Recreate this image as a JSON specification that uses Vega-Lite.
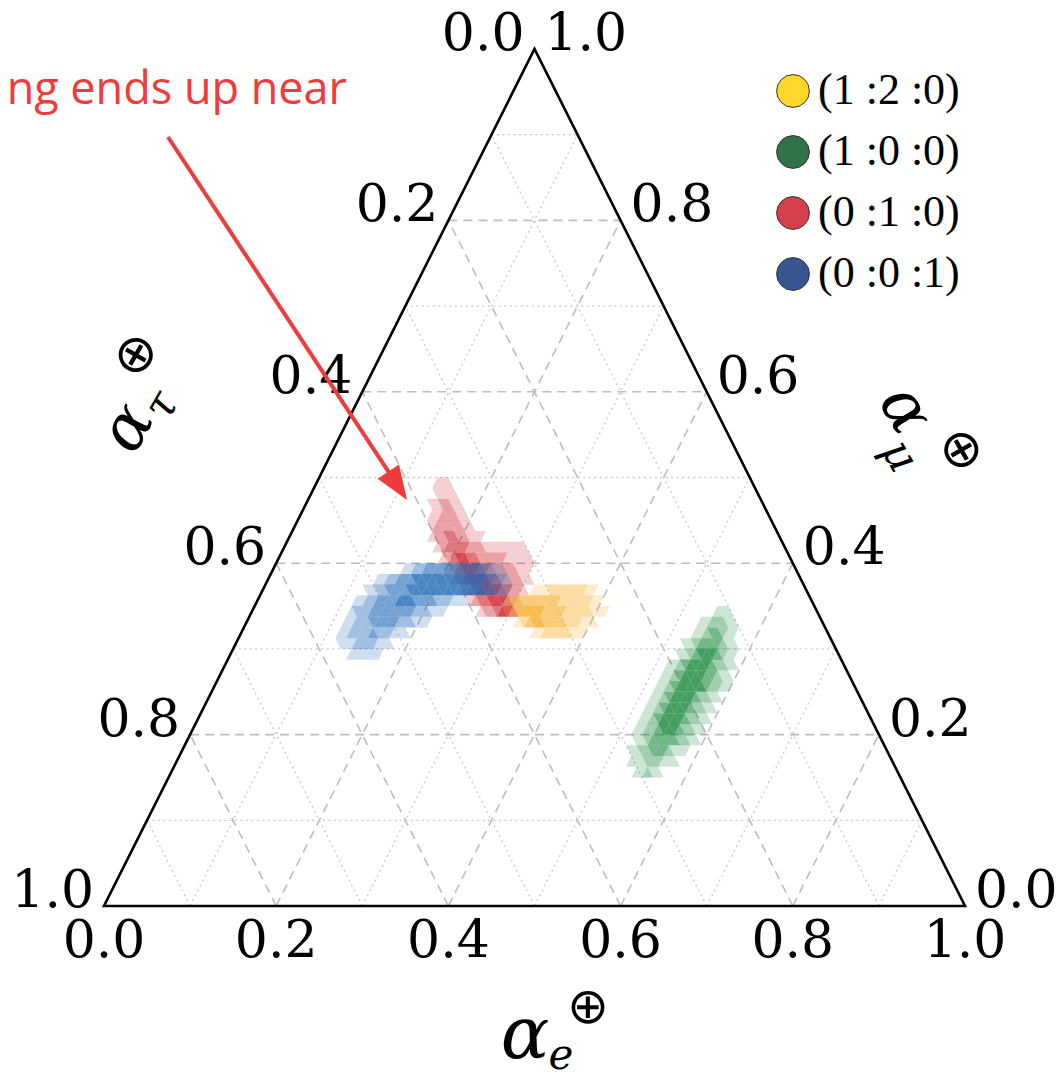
{
"$schema":"https://vega.github.io/schema/vega-lite/v6.json",
"width":861,"height":857,"autosize":"none",
"padding":{"left":104,"top":49,"right":95,"bottom":174},
"background":"white",
"config":{"view":{"stroke":null}},
"resolve":{"scale":{"x":"independent","y":"independent","color":"independent"}},
"layer":[
{"data":{"values":[{"x":0.1,"y":0.2,"x2":0.9,"y2":0.2},{"x":0.2,"y":0.4,"x2":0.8,"y2":0.4},{"x":0.3,"y":0.6,"x2":0.7,"y2":0.6},{"x":0.4,"y":0.8,"x2":0.6,"y2":0.8},{"x":0.2,"y":0,"x2":0.6,"y2":0.8},{"x":0.4,"y":0,"x2":0.7,"y2":0.6},{"x":0.6,"y":0,"x2":0.8,"y2":0.4},{"x":0.8,"y":0,"x2":0.9,"y2":0.2},{"x":0.2,"y":0,"x2":0.1,"y2":0.2},{"x":0.4,"y":0,"x2":0.2,"y2":0.4},{"x":0.6,"y":0,"x2":0.3,"y2":0.6},{"x":0.8,"y":0,"x2":0.4,"y2":0.8}]},
"mark":{"type":"rule","color":"#bdbdbd","strokeWidth":1.6,"strokeDash":[9,6]},
"encoding":{"x":{"field":"x","type":"quantitative","scale":{"domain":[0,1]},"axis":null},"y":{"field":"y","type":"quantitative","scale":{"domain":[0,1]},"axis":null},"x2":{"field":"x2"},"y2":{"field":"y2"}}},
{"data":{"values":[{"x":0.05,"y":0.1,"x2":0.95,"y2":0.1},{"x":0.15,"y":0.3,"x2":0.85,"y2":0.3},{"x":0.25,"y":0.5,"x2":0.75,"y2":0.5},{"x":0.35,"y":0.7,"x2":0.65,"y2":0.7},{"x":0.45,"y":0.9,"x2":0.55,"y2":0.9},{"x":0.1,"y":0,"x2":0.55,"y2":0.9},{"x":0.3,"y":0,"x2":0.65,"y2":0.7},{"x":0.5,"y":0,"x2":0.75,"y2":0.5},{"x":0.7,"y":0,"x2":0.85,"y2":0.3},{"x":0.9,"y":0,"x2":0.95,"y2":0.1},{"x":0.1,"y":0,"x2":0.05,"y2":0.1},{"x":0.3,"y":0,"x2":0.15,"y2":0.3},{"x":0.5,"y":0,"x2":0.25,"y2":0.5},{"x":0.7,"y":0,"x2":0.35,"y2":0.7},{"x":0.9,"y":0,"x2":0.45,"y2":0.9}]},
"mark":{"type":"rule","color":"#c8c8c8","strokeWidth":1.3,"strokeDash":[2,3.5]},
"encoding":{"x":{"field":"x","type":"quantitative","scale":{"domain":[0,1]},"axis":null},"y":{"field":"y","type":"quantitative","scale":{"domain":[0,1]},"axis":null},"x2":{"field":"x2"},"y2":{"field":"y2"}}},
{"data":{"values":[
{"r":27,"h":70,"t":"u","o":1},{"r":27,"h":71,"t":"d","o":2},{"r":27,"h":72,"t":"u","o":2},{"r":27,"h":73,"t":"d","o":3},{"r":27,"h":74,"t":"u","o":4},{"r":27,"h":75,"t":"d","o":4},{"r":27,"h":76,"t":"u","o":3},{"r":27,"h":77,"t":"d","o":1},
{"r":28,"h":68,"t":"d","o":1},{"r":28,"h":69,"t":"u","o":2},{"r":28,"h":70,"t":"d","o":3},{"r":28,"h":71,"t":"u","o":3},{"r":28,"h":72,"t":"d","o":4},{"r":28,"h":73,"t":"u","o":4},{"r":28,"h":74,"t":"d","o":4},{"r":28,"h":75,"t":"u","o":3},{"r":28,"h":76,"t":"d","o":2},{"r":28,"h":77,"t":"u","o":1},
{"r":29,"h":67,"t":"d","o":1},{"r":29,"h":68,"t":"u","o":2},{"r":29,"h":69,"t":"d","o":3},{"r":29,"h":70,"t":"u","o":4},{"r":29,"h":71,"t":"d","o":4},{"r":29,"h":72,"t":"u","o":4},{"r":29,"h":73,"t":"d","o":4},{"r":29,"h":74,"t":"u","o":3},{"r":29,"h":75,"t":"d","o":3},{"r":29,"h":76,"t":"u","o":2},{"r":29,"h":77,"t":"d","o":2},{"r":29,"h":78,"t":"u","o":1},
{"r":30,"h":65,"t":"u","o":1},{"r":30,"h":66,"t":"d","o":2},{"r":30,"h":67,"t":"u","o":3},{"r":30,"h":68,"t":"d","o":4},{"r":30,"h":69,"t":"u","o":4},{"r":30,"h":70,"t":"d","o":4},{"r":30,"h":71,"t":"u","o":4},{"r":30,"h":72,"t":"d","o":3},{"r":30,"h":73,"t":"u","o":3},{"r":30,"h":74,"t":"d","o":2},{"r":30,"h":75,"t":"u","o":2},{"r":30,"h":76,"t":"d","o":2},{"r":30,"h":77,"t":"u","o":2},{"r":30,"h":78,"t":"d","o":1},{"r":30,"h":79,"t":"u","o":1},
{"r":31,"h":64,"t":"u","o":1},{"r":31,"h":65,"t":"d","o":2},{"r":31,"h":66,"t":"u","o":3},{"r":31,"h":67,"t":"d","o":4},{"r":31,"h":68,"t":"u","o":4},{"r":31,"h":69,"t":"d","o":4},{"r":31,"h":70,"t":"u","o":3},{"r":31,"h":71,"t":"d","o":3},{"r":31,"h":72,"t":"u","o":2},{"r":31,"h":73,"t":"d","o":2},{"r":31,"h":74,"t":"u","o":2},{"r":31,"h":75,"t":"d","o":2},{"r":31,"h":76,"t":"u","o":2},{"r":31,"h":77,"t":"d","o":1},{"r":31,"h":78,"t":"u","o":1},{"r":31,"h":79,"t":"d","o":1},
{"r":32,"h":63,"t":"u","o":1},{"r":32,"h":64,"t":"d","o":2},{"r":32,"h":65,"t":"u","o":3},{"r":32,"h":66,"t":"d","o":4},{"r":32,"h":67,"t":"u","o":4},{"r":32,"h":68,"t":"d","o":3},{"r":32,"h":69,"t":"u","o":3},{"r":32,"h":70,"t":"d","o":2},{"r":32,"h":71,"t":"u","o":2},{"r":32,"h":72,"t":"d","o":2},{"r":32,"h":73,"t":"u","o":2},{"r":32,"h":74,"t":"d","o":2},{"r":32,"h":75,"t":"u","o":1},{"r":32,"h":76,"t":"d","o":1},{"r":32,"h":77,"t":"u","o":1},{"r":32,"h":78,"t":"d","o":1},{"r":32,"h":79,"t":"u","o":1},
{"r":33,"h":62,"t":"u","o":1},{"r":33,"h":63,"t":"d","o":2},{"r":33,"h":64,"t":"u","o":3},{"r":33,"h":65,"t":"d","o":3},{"r":33,"h":66,"t":"u","o":3},{"r":33,"h":67,"t":"d","o":3},{"r":33,"h":68,"t":"u","o":2},{"r":33,"h":69,"t":"d","o":2},{"r":33,"h":70,"t":"u","o":2},{"r":33,"h":71,"t":"d","o":1},{"r":33,"h":72,"t":"u","o":1},{"r":33,"h":73,"t":"d","o":1},{"r":33,"h":74,"t":"u","o":1},{"r":33,"h":75,"t":"d","o":1},{"r":33,"h":76,"t":"u","o":1},{"r":33,"h":77,"t":"d","o":1},{"r":33,"h":78,"t":"u","o":1},
{"r":34,"h":61,"t":"u","o":1},{"r":34,"h":62,"t":"d","o":2},{"r":34,"h":63,"t":"u","o":2},{"r":34,"h":64,"t":"d","o":3},{"r":34,"h":65,"t":"u","o":3},{"r":34,"h":66,"t":"d","o":2},{"r":34,"h":67,"t":"u","o":2},{"r":34,"h":68,"t":"d","o":1},{"r":34,"h":69,"t":"u","o":1},{"r":34,"h":70,"t":"d","o":1},
{"r":35,"h":61,"t":"d","o":1},{"r":35,"h":62,"t":"u","o":2},{"r":35,"h":63,"t":"d","o":2},{"r":35,"h":64,"t":"u","o":2},{"r":35,"h":65,"t":"d","o":2},{"r":35,"h":66,"t":"u","o":2},{"r":35,"h":67,"t":"d","o":1},{"r":35,"h":68,"t":"u","o":1},
{"r":36,"h":61,"t":"u","o":1},{"r":36,"h":62,"t":"d","o":1},{"r":36,"h":63,"t":"u","o":2},{"r":36,"h":64,"t":"d","o":2},{"r":36,"h":65,"t":"u","o":2},{"r":36,"h":66,"t":"d","o":1},{"r":36,"h":67,"t":"u","o":1},
{"r":37,"h":61,"t":"d","o":1},{"r":37,"h":62,"t":"u","o":1},{"r":37,"h":63,"t":"d","o":2},{"r":37,"h":64,"t":"u","o":2},{"r":37,"h":65,"t":"d","o":1},{"r":37,"h":66,"t":"u","o":1},
{"r":38,"h":62,"t":"d","o":1},{"r":38,"h":63,"t":"u","o":1},{"r":38,"h":64,"t":"d","o":1},{"r":38,"h":65,"t":"u","o":1},
{"r":39,"h":62,"t":"u","o":1},{"r":39,"h":63,"t":"d","o":1},{"r":39,"h":64,"t":"u","o":1}
]},
"mark":{"type":"point","filled":true,"size":116,"strokeWidth":0,"color":"#cc1e2b"},
"encoding":{"x":{"field":"h","type":"quantitative","scale":{"domain":[0,160],"nice":false,"zero":false},"axis":null},"y":{"field":"r","type":"quantitative","scale":{"domain":[-0.5,79.5],"nice":false,"zero":false},"axis":null},"shape":{"field":"t","type":"nominal","scale":{"domain":["u","d"],"range":["M-1,1L1,1L0,-1Z","M-1,-1L1,-1L0,1Z"]},"legend":null},"opacity":{"field":"o","type":"quantitative","scale":{"domain":[1,4],"range":[0.22,0.82]},"legend":null}}},
{"data":{"values":[
{"r":23,"h":46,"t":"u","o":1},{"r":23,"h":47,"t":"d","o":1},{"r":23,"h":48,"t":"u","o":1},{"r":23,"h":49,"t":"d","o":1},{"r":23,"h":50,"t":"u","o":1},{"r":23,"h":51,"t":"d","o":1},
{"r":24,"h":44,"t":"d","o":1},{"r":24,"h":45,"t":"u","o":1},{"r":24,"h":46,"t":"d","o":1},{"r":24,"h":47,"t":"u","o":2},{"r":24,"h":48,"t":"d","o":2},{"r":24,"h":49,"t":"u","o":2},{"r":24,"h":50,"t":"d","o":2},{"r":24,"h":51,"t":"u","o":1},{"r":24,"h":52,"t":"d","o":1},{"r":24,"h":53,"t":"u","o":1},
{"r":25,"h":44,"t":"u","o":1},{"r":25,"h":45,"t":"d","o":1},{"r":25,"h":46,"t":"u","o":2},{"r":25,"h":47,"t":"d","o":2},{"r":25,"h":48,"t":"u","o":2},{"r":25,"h":49,"t":"d","o":2},{"r":25,"h":50,"t":"u","o":3},{"r":25,"h":51,"t":"d","o":2},{"r":25,"h":52,"t":"u","o":2},{"r":25,"h":53,"t":"d","o":2},{"r":25,"h":54,"t":"u","o":1},{"r":25,"h":55,"t":"d","o":1},{"r":25,"h":56,"t":"u","o":1},
{"r":26,"h":45,"t":"u","o":1},{"r":26,"h":46,"t":"d","o":1},{"r":26,"h":47,"t":"u","o":2},{"r":26,"h":48,"t":"d","o":2},{"r":26,"h":49,"t":"u","o":2},{"r":26,"h":50,"t":"d","o":3},{"r":26,"h":51,"t":"u","o":3},{"r":26,"h":52,"t":"d","o":3},{"r":26,"h":53,"t":"u","o":3},{"r":26,"h":54,"t":"d","o":3},{"r":26,"h":55,"t":"u","o":2},{"r":26,"h":56,"t":"d","o":2},{"r":26,"h":57,"t":"u","o":2},{"r":26,"h":58,"t":"d","o":1},{"r":26,"h":59,"t":"u","o":1},{"r":26,"h":60,"t":"d","o":1},
{"r":27,"h":46,"t":"u","o":1},{"r":27,"h":47,"t":"d","o":2},{"r":27,"h":48,"t":"u","o":2},{"r":27,"h":49,"t":"d","o":2},{"r":27,"h":50,"t":"u","o":3},{"r":27,"h":51,"t":"d","o":3},{"r":27,"h":52,"t":"u","o":3},{"r":27,"h":53,"t":"d","o":3},{"r":27,"h":54,"t":"u","o":3},{"r":27,"h":55,"t":"d","o":3},{"r":27,"h":56,"t":"u","o":3},{"r":27,"h":57,"t":"d","o":3},{"r":27,"h":58,"t":"u","o":2},{"r":27,"h":59,"t":"d","o":2},{"r":27,"h":60,"t":"u","o":2},{"r":27,"h":61,"t":"d","o":1},{"r":27,"h":62,"t":"u","o":1},{"r":27,"h":63,"t":"d","o":1},
{"r":28,"h":47,"t":"u","o":1},{"r":28,"h":48,"t":"d","o":1},{"r":28,"h":49,"t":"u","o":2},{"r":28,"h":50,"t":"d","o":2},{"r":28,"h":51,"t":"u","o":3},{"r":28,"h":52,"t":"d","o":3},{"r":28,"h":53,"t":"u","o":3},{"r":28,"h":54,"t":"d","o":3},{"r":28,"h":55,"t":"u","o":4},{"r":28,"h":56,"t":"d","o":4},{"r":28,"h":57,"t":"u","o":4},{"r":28,"h":58,"t":"d","o":3},{"r":28,"h":59,"t":"u","o":3},{"r":28,"h":60,"t":"d","o":3},{"r":28,"h":61,"t":"u","o":3},{"r":28,"h":62,"t":"d","o":2},{"r":28,"h":63,"t":"u","o":2},{"r":28,"h":64,"t":"d","o":2},{"r":28,"h":65,"t":"u","o":1},{"r":28,"h":66,"t":"d","o":1},{"r":28,"h":67,"t":"u","o":1},
{"r":29,"h":49,"t":"d","o":1},{"r":29,"h":50,"t":"u","o":1},{"r":29,"h":51,"t":"d","o":2},{"r":29,"h":52,"t":"u","o":2},{"r":29,"h":53,"t":"d","o":3},{"r":29,"h":54,"t":"u","o":3},{"r":29,"h":55,"t":"d","o":3},{"r":29,"h":56,"t":"u","o":3},{"r":29,"h":57,"t":"d","o":4},{"r":29,"h":58,"t":"u","o":4},{"r":29,"h":59,"t":"d","o":4},{"r":29,"h":60,"t":"u","o":4},{"r":29,"h":61,"t":"d","o":4},{"r":29,"h":62,"t":"u","o":4},{"r":29,"h":63,"t":"d","o":4},{"r":29,"h":64,"t":"u","o":4},{"r":29,"h":65,"t":"d","o":4},{"r":29,"h":66,"t":"u","o":4},{"r":29,"h":67,"t":"d","o":4},{"r":29,"h":68,"t":"u","o":4},{"r":29,"h":69,"t":"d","o":4},{"r":29,"h":70,"t":"u","o":4},{"r":29,"h":71,"t":"d","o":3},{"r":29,"h":72,"t":"u","o":3},{"r":29,"h":73,"t":"d","o":2},{"r":29,"h":74,"t":"u","o":2},{"r":29,"h":75,"t":"d","o":1},
{"r":30,"h":51,"t":"u","o":1},{"r":30,"h":52,"t":"d","o":1},{"r":30,"h":53,"t":"u","o":2},{"r":30,"h":54,"t":"d","o":2},{"r":30,"h":55,"t":"u","o":3},{"r":30,"h":56,"t":"d","o":3},{"r":30,"h":57,"t":"u","o":3},{"r":30,"h":58,"t":"d","o":4},{"r":30,"h":59,"t":"u","o":4},{"r":30,"h":60,"t":"d","o":4},{"r":30,"h":61,"t":"u","o":4},{"r":30,"h":62,"t":"d","o":4},{"r":30,"h":63,"t":"u","o":4},{"r":30,"h":64,"t":"d","o":4},{"r":30,"h":65,"t":"u","o":4},{"r":30,"h":66,"t":"d","o":4},{"r":30,"h":67,"t":"u","o":4},{"r":30,"h":68,"t":"d","o":4},{"r":30,"h":69,"t":"u","o":4},{"r":30,"h":70,"t":"d","o":4},{"r":30,"h":71,"t":"u","o":3},{"r":30,"h":72,"t":"d","o":3},{"r":30,"h":73,"t":"u","o":2},{"r":30,"h":74,"t":"d","o":2},{"r":30,"h":75,"t":"u","o":1},
{"r":31,"h":56,"t":"u","o":1},{"r":31,"h":57,"t":"d","o":1},{"r":31,"h":58,"t":"u","o":2},{"r":31,"h":59,"t":"d","o":2},{"r":31,"h":60,"t":"u","o":3},{"r":31,"h":61,"t":"d","o":3},{"r":31,"h":62,"t":"u","o":3},{"r":31,"h":63,"t":"d","o":3},{"r":31,"h":64,"t":"u","o":3},{"r":31,"h":65,"t":"d","o":3},{"r":31,"h":66,"t":"u","o":3},{"r":31,"h":67,"t":"d","o":3},{"r":31,"h":68,"t":"u","o":3},{"r":31,"h":69,"t":"d","o":3},{"r":31,"h":70,"t":"u","o":3},{"r":31,"h":71,"t":"d","o":2},{"r":31,"h":72,"t":"u","o":2},{"r":31,"h":73,"t":"d","o":1},{"r":31,"h":74,"t":"u","o":1}
]},
"mark":{"type":"point","filled":true,"size":116,"strokeWidth":0,"color":"#1f6ab8"},
"encoding":{"x":{"field":"h","type":"quantitative","scale":{"domain":[0,160],"nice":false,"zero":false},"axis":null},"y":{"field":"r","type":"quantitative","scale":{"domain":[-0.5,79.5],"nice":false,"zero":false},"axis":null},"shape":{"field":"t","type":"nominal","scale":{"domain":["u","d"],"range":["M-1,1L1,1L0,-1Z","M-1,-1L1,-1L0,1Z"]},"legend":null},"opacity":{"field":"o","type":"quantitative","scale":{"domain":[1,4],"range":[0.22,0.82]},"legend":null}}},
{"data":{"values":[
{"r":25,"h":80,"t":"u","o":1},{"r":25,"h":81,"t":"d","o":1},{"r":25,"h":82,"t":"u","o":2},{"r":25,"h":83,"t":"d","o":2},{"r":25,"h":84,"t":"u","o":2},{"r":25,"h":85,"t":"d","o":2},{"r":25,"h":86,"t":"u","o":2},{"r":25,"h":87,"t":"d","o":1},{"r":25,"h":88,"t":"u","o":1},{"r":25,"h":89,"t":"d","o":1},
{"r":26,"h":77,"t":"u","o":1},{"r":26,"h":78,"t":"d","o":2},{"r":26,"h":79,"t":"u","o":3},{"r":26,"h":80,"t":"d","o":4},{"r":26,"h":81,"t":"u","o":4},{"r":26,"h":82,"t":"d","o":3},{"r":26,"h":83,"t":"u","o":3},{"r":26,"h":84,"t":"d","o":3},{"r":26,"h":85,"t":"u","o":3},{"r":26,"h":86,"t":"d","o":2},{"r":26,"h":87,"t":"u","o":2},{"r":26,"h":88,"t":"d","o":2},{"r":26,"h":89,"t":"u","o":1},{"r":26,"h":90,"t":"d","o":1},{"r":26,"h":91,"t":"u","o":1},
{"r":27,"h":75,"t":"d","o":1},{"r":27,"h":76,"t":"u","o":2},{"r":27,"h":77,"t":"d","o":3},{"r":27,"h":78,"t":"u","o":4},{"r":27,"h":79,"t":"d","o":4},{"r":27,"h":80,"t":"u","o":4},{"r":27,"h":81,"t":"d","o":4},{"r":27,"h":82,"t":"u","o":3},{"r":27,"h":83,"t":"d","o":3},{"r":27,"h":84,"t":"u","o":3},{"r":27,"h":85,"t":"d","o":3},{"r":27,"h":86,"t":"u","o":2},{"r":27,"h":87,"t":"d","o":2},{"r":27,"h":88,"t":"u","o":2},{"r":27,"h":89,"t":"d","o":2},{"r":27,"h":90,"t":"u","o":2},{"r":27,"h":91,"t":"d","o":1},{"r":27,"h":92,"t":"u","o":1},{"r":27,"h":93,"t":"d","o":1},
{"r":28,"h":75,"t":"u","o":1},{"r":28,"h":76,"t":"d","o":2},{"r":28,"h":77,"t":"u","o":3},{"r":28,"h":78,"t":"d","o":3},{"r":28,"h":79,"t":"u","o":3},{"r":28,"h":80,"t":"d","o":3},{"r":28,"h":81,"t":"u","o":3},{"r":28,"h":82,"t":"d","o":3},{"r":28,"h":83,"t":"u","o":3},{"r":28,"h":84,"t":"d","o":3},{"r":28,"h":85,"t":"u","o":2},{"r":28,"h":86,"t":"d","o":2},{"r":28,"h":87,"t":"u","o":2},{"r":28,"h":88,"t":"d","o":2},{"r":28,"h":89,"t":"u","o":2},{"r":28,"h":90,"t":"d","o":2},{"r":28,"h":91,"t":"u","o":1},{"r":28,"h":92,"t":"d","o":1},
{"r":29,"h":80,"t":"u","o":1},{"r":29,"h":81,"t":"d","o":1},{"r":29,"h":82,"t":"u","o":1},{"r":29,"h":83,"t":"d","o":2},{"r":29,"h":84,"t":"u","o":2},{"r":29,"h":85,"t":"d","o":2},{"r":29,"h":86,"t":"u","o":2},{"r":29,"h":87,"t":"d","o":2},{"r":29,"h":88,"t":"u","o":2},{"r":29,"h":89,"t":"d","o":2},{"r":29,"h":90,"t":"u","o":1},{"r":29,"h":91,"t":"d","o":1}
]},
"mark":{"type":"point","filled":true,"size":116,"strokeWidth":0,"color":"#f6ab22"},
"encoding":{"x":{"field":"h","type":"quantitative","scale":{"domain":[0,160],"nice":false,"zero":false},"axis":null},"y":{"field":"r","type":"quantitative","scale":{"domain":[-0.5,79.5],"nice":false,"zero":false},"axis":null},"shape":{"field":"t","type":"nominal","scale":{"domain":["u","d"],"range":["M-1,1L1,1L0,-1Z","M-1,-1L1,-1L0,1Z"]},"legend":null},"opacity":{"field":"o","type":"quantitative","scale":{"domain":[1,4],"range":[0.22,0.82]},"legend":null}}},
{"data":{"values":[
{"r":12,"h":99,"t":"u","o":1},{"r":12,"h":100,"t":"d","o":1},{"r":12,"h":101,"t":"u","o":2},{"r":12,"h":102,"t":"d","o":1},{"r":12,"h":103,"t":"u","o":1},
{"r":13,"h":98,"t":"u","o":1},{"r":13,"h":99,"t":"d","o":1},{"r":13,"h":100,"t":"u","o":1},{"r":13,"h":101,"t":"d","o":2},{"r":13,"h":102,"t":"u","o":2},{"r":13,"h":103,"t":"d","o":2},{"r":13,"h":104,"t":"u","o":1},{"r":13,"h":105,"t":"d","o":1},{"r":13,"h":106,"t":"u","o":1},
{"r":14,"h":98,"t":"d","o":1},{"r":14,"h":99,"t":"u","o":1},{"r":14,"h":100,"t":"d","o":2},{"r":14,"h":101,"t":"u","o":2},{"r":14,"h":102,"t":"d","o":3},{"r":14,"h":103,"t":"u","o":3},{"r":14,"h":104,"t":"d","o":3},{"r":14,"h":105,"t":"u","o":2},{"r":14,"h":106,"t":"d","o":1},{"r":14,"h":107,"t":"u","o":1},{"r":14,"h":108,"t":"d","o":1},
{"r":15,"h":99,"t":"d","o":1},{"r":15,"h":100,"t":"u","o":1},{"r":15,"h":101,"t":"d","o":2},{"r":15,"h":102,"t":"u","o":3},{"r":15,"h":103,"t":"d","o":3},{"r":15,"h":104,"t":"u","o":3},{"r":15,"h":105,"t":"d","o":3},{"r":15,"h":106,"t":"u","o":3},{"r":15,"h":107,"t":"d","o":2},{"r":15,"h":108,"t":"u","o":2},{"r":15,"h":109,"t":"d","o":1},{"r":15,"h":110,"t":"u","o":1},
{"r":16,"h":99,"t":"u","o":1},{"r":16,"h":100,"t":"d","o":1},{"r":16,"h":101,"t":"u","o":2},{"r":16,"h":102,"t":"d","o":2},{"r":16,"h":103,"t":"u","o":3},{"r":16,"h":104,"t":"d","o":4},{"r":16,"h":105,"t":"u","o":4},{"r":16,"h":106,"t":"d","o":4},{"r":16,"h":107,"t":"u","o":3},{"r":16,"h":108,"t":"d","o":2},{"r":16,"h":109,"t":"u","o":2},{"r":16,"h":110,"t":"d","o":1},{"r":16,"h":111,"t":"u","o":1},
{"r":17,"h":100,"t":"u","o":1},{"r":17,"h":101,"t":"d","o":1},{"r":17,"h":102,"t":"u","o":2},{"r":17,"h":103,"t":"d","o":3},{"r":17,"h":104,"t":"u","o":4},{"r":17,"h":105,"t":"d","o":4},{"r":17,"h":106,"t":"u","o":4},{"r":17,"h":107,"t":"d","o":4},{"r":17,"h":108,"t":"u","o":3},{"r":17,"h":109,"t":"d","o":2},{"r":17,"h":110,"t":"u","o":2},{"r":17,"h":111,"t":"d","o":1},{"r":17,"h":112,"t":"u","o":1},
{"r":18,"h":101,"t":"u","o":1},{"r":18,"h":102,"t":"d","o":1},{"r":18,"h":103,"t":"u","o":2},{"r":18,"h":104,"t":"d","o":3},{"r":18,"h":105,"t":"u","o":4},{"r":18,"h":106,"t":"d","o":4},{"r":18,"h":107,"t":"u","o":4},{"r":18,"h":108,"t":"d","o":4},{"r":18,"h":109,"t":"u","o":3},{"r":18,"h":110,"t":"d","o":2},{"r":18,"h":111,"t":"u","o":2},{"r":18,"h":112,"t":"d","o":1},{"r":18,"h":113,"t":"u","o":1},
{"r":19,"h":102,"t":"u","o":1},{"r":19,"h":103,"t":"d","o":1},{"r":19,"h":104,"t":"u","o":2},{"r":19,"h":105,"t":"d","o":3},{"r":19,"h":106,"t":"u","o":4},{"r":19,"h":107,"t":"d","o":4},{"r":19,"h":108,"t":"u","o":4},{"r":19,"h":109,"t":"d","o":4},{"r":19,"h":110,"t":"u","o":3},{"r":19,"h":111,"t":"d","o":2},{"r":19,"h":112,"t":"u","o":2},{"r":19,"h":113,"t":"d","o":1},{"r":19,"h":114,"t":"u","o":1},
{"r":20,"h":103,"t":"u","o":1},{"r":20,"h":104,"t":"d","o":1},{"r":20,"h":105,"t":"u","o":2},{"r":20,"h":106,"t":"d","o":3},{"r":20,"h":107,"t":"u","o":4},{"r":20,"h":108,"t":"d","o":4},{"r":20,"h":109,"t":"u","o":4},{"r":20,"h":110,"t":"d","o":4},{"r":20,"h":111,"t":"u","o":4},{"r":20,"h":112,"t":"d","o":3},{"r":20,"h":113,"t":"u","o":2},{"r":20,"h":114,"t":"d","o":2},{"r":20,"h":115,"t":"u","o":1},{"r":20,"h":116,"t":"d","o":1},
{"r":21,"h":104,"t":"u","o":1},{"r":21,"h":105,"t":"d","o":1},{"r":21,"h":106,"t":"u","o":2},{"r":21,"h":107,"t":"d","o":3},{"r":21,"h":108,"t":"u","o":4},{"r":21,"h":109,"t":"d","o":4},{"r":21,"h":110,"t":"u","o":4},{"r":21,"h":111,"t":"d","o":4},{"r":21,"h":112,"t":"u","o":3},{"r":21,"h":113,"t":"d","o":3},{"r":21,"h":114,"t":"u","o":2},{"r":21,"h":115,"t":"d","o":1},{"r":21,"h":116,"t":"u","o":1},
{"r":22,"h":105,"t":"u","o":1},{"r":22,"h":106,"t":"d","o":1},{"r":22,"h":107,"t":"u","o":2},{"r":22,"h":108,"t":"d","o":3},{"r":22,"h":109,"t":"u","o":4},{"r":22,"h":110,"t":"d","o":4},{"r":22,"h":111,"t":"u","o":4},{"r":22,"h":112,"t":"d","o":4},{"r":22,"h":113,"t":"u","o":3},{"r":22,"h":114,"t":"d","o":2},{"r":22,"h":115,"t":"u","o":2},{"r":22,"h":116,"t":"d","o":1},{"r":22,"h":117,"t":"u","o":1},
{"r":23,"h":107,"t":"d","o":1},{"r":23,"h":108,"t":"u","o":1},{"r":23,"h":109,"t":"d","o":2},{"r":23,"h":110,"t":"u","o":3},{"r":23,"h":111,"t":"d","o":4},{"r":23,"h":112,"t":"u","o":4},{"r":23,"h":113,"t":"d","o":4},{"r":23,"h":114,"t":"u","o":3},{"r":23,"h":115,"t":"d","o":2},{"r":23,"h":116,"t":"u","o":1},{"r":23,"h":117,"t":"d","o":1},
{"r":24,"h":108,"t":"d","o":1},{"r":24,"h":109,"t":"u","o":1},{"r":24,"h":110,"t":"d","o":2},{"r":24,"h":111,"t":"u","o":3},{"r":24,"h":112,"t":"d","o":3},{"r":24,"h":113,"t":"u","o":3},{"r":24,"h":114,"t":"d","o":3},{"r":24,"h":115,"t":"u","o":2},{"r":24,"h":116,"t":"d","o":1},{"r":24,"h":117,"t":"u","o":1},
{"r":25,"h":110,"t":"u","o":1},{"r":25,"h":111,"t":"d","o":1},{"r":25,"h":112,"t":"u","o":2},{"r":25,"h":113,"t":"d","o":3},{"r":25,"h":114,"t":"u","o":3},{"r":25,"h":115,"t":"d","o":2},{"r":25,"h":116,"t":"u","o":1},{"r":25,"h":117,"t":"d","o":1},
{"r":26,"h":111,"t":"u","o":1},{"r":26,"h":112,"t":"d","o":1},{"r":26,"h":113,"t":"u","o":2},{"r":26,"h":114,"t":"d","o":2},{"r":26,"h":115,"t":"u","o":2},{"r":26,"h":116,"t":"d","o":1},{"r":26,"h":117,"t":"u","o":1},
{"r":27,"h":114,"t":"u","o":1},{"r":27,"h":115,"t":"d","o":1},{"r":27,"h":116,"t":"u","o":1}
]},
"mark":{"type":"point","filled":true,"size":116,"strokeWidth":0,"color":"#1c8a3e"},
"encoding":{"x":{"field":"h","type":"quantitative","scale":{"domain":[0,160],"nice":false,"zero":false},"axis":null},"y":{"field":"r","type":"quantitative","scale":{"domain":[-0.5,79.5],"nice":false,"zero":false},"axis":null},"shape":{"field":"t","type":"nominal","scale":{"domain":["u","d"],"range":["M-1,1L1,1L0,-1Z","M-1,-1L1,-1L0,1Z"]},"legend":null},"opacity":{"field":"o","type":"quantitative","scale":{"domain":[1,4],"range":[0.2,0.78]},"legend":null}}},
{"data":{"values":[{"i":0,"x":0,"y":0},{"i":1,"x":1,"y":0},{"i":2,"x":0.5,"y":1},{"i":3,"x":0,"y":0},{"i":4,"x":1,"y":0}]},
"mark":{"type":"line","color":"#000000","strokeWidth":2.6,"strokeJoin":"miter"},
"encoding":{"x":{"field":"x","type":"quantitative","scale":{"domain":[0,1]},"axis":null},"y":{"field":"y","type":"quantitative","scale":{"domain":[0,1]},"axis":null},"order":{"field":"i","type":"quantitative"}}},
{"data":{"values":[{"v":"0.0","x":0,"y":0},{"v":"0.2","x":0.2,"y":0},{"v":"0.4","x":0.4,"y":0},{"v":"0.6","x":0.6,"y":0},{"v":"0.8","x":0.8,"y":0},{"v":"1.0","x":1,"y":0}]},
"mark":{"type":"text","font":"DejaVu Serif","fontSize":52,"color":"#000000","align":"center","baseline":"alphabetic","dy":51},
"encoding":{"x":{"field":"x","type":"quantitative","scale":{"domain":[0,1]},"axis":null},"y":{"field":"y","type":"quantitative","scale":{"domain":[0,1]},"axis":null},"text":{"field":"v"}}},
{"data":{"values":[{"v":"0.0","x":0.5,"y":1},{"v":"0.2","x":0.4,"y":0.8},{"v":"0.4","x":0.3,"y":0.6},{"v":"0.6","x":0.2,"y":0.4},{"v":"0.8","x":0.1,"y":0.2},{"v":"1.0","x":0,"y":0}]},
"mark":{"type":"text","font":"DejaVu Serif","fontSize":52,"color":"#000000","align":"right","baseline":"alphabetic","dx":-10,"dy":1},
"encoding":{"x":{"field":"x","type":"quantitative","scale":{"domain":[0,1]},"axis":null},"y":{"field":"y","type":"quantitative","scale":{"domain":[0,1]},"axis":null},"text":{"field":"v"}}},
{"data":{"values":[{"v":"0.0","x":1,"y":0},{"v":"0.2","x":0.9,"y":0.2},{"v":"0.4","x":0.8,"y":0.4},{"v":"0.6","x":0.7,"y":0.6},{"v":"0.8","x":0.6,"y":0.8},{"v":"1.0","x":0.5,"y":1}]},
"mark":{"type":"text","font":"DejaVu Serif","fontSize":52,"color":"#000000","align":"left","baseline":"alphabetic","dx":10,"dy":1},
"encoding":{"x":{"field":"x","type":"quantitative","scale":{"domain":[0,1]},"axis":null},"y":{"field":"y","type":"quantitative","scale":{"domain":[0,1]},"axis":null},"text":{"field":"v"}}},
{"data":{"values":[{"s":"α","x":0.489,"y":-0.1517}]},
"mark":{"type":"text","font":"DejaVu Serif","fontStyle":"italic","fontSize":72,"color":"#000000","align":"center","baseline":"middle"},
"encoding":{"x":{"field":"x","type":"quantitative","scale":{"domain":[0,1]},"axis":null},"y":{"field":"y","type":"quantitative","scale":{"domain":[0,1]},"axis":null},"text":{"field":"s"}}},
{"data":{"values":[{"s":"e","x":0.5308,"y":-0.175}]},
"mark":{"type":"text","font":"DejaVu Serif","fontStyle":"italic","fontSize":42,"color":"#000000","align":"center","baseline":"middle"},
"encoding":{"x":{"field":"x","type":"quantitative","scale":{"domain":[0,1]},"axis":null},"y":{"field":"y","type":"quantitative","scale":{"domain":[0,1]},"axis":null},"text":{"field":"s"}}},
{"data":{"values":[{"s":"⊕","x":0.5621,"y":-0.119}]},
"mark":{"type":"text","font":"DejaVu Sans","fontSize":50,"color":"#000000","align":"center","baseline":"middle"},
"encoding":{"x":{"field":"x","type":"quantitative","scale":{"domain":[0,1]},"axis":null},"y":{"field":"y","type":"quantitative","scale":{"domain":[0,1]},"axis":null},"text":{"field":"s"}}},
{"data":{"values":[{"s":"α","x":0.0279,"y":0.5578}]},
"mark":{"type":"text","font":"DejaVu Serif","fontStyle":"italic","fontSize":64,"color":"#000000","align":"center","baseline":"middle","angle":300},
"encoding":{"x":{"field":"x","type":"quantitative","scale":{"domain":[0,1]},"axis":null},"y":{"field":"y","type":"quantitative","scale":{"domain":[0,1]},"axis":null},"text":{"field":"s"}}},
{"data":{"values":[{"s":"τ","x":0.0674,"y":0.5834}]},
"mark":{"type":"text","font":"DejaVu Serif","fontStyle":"italic","fontSize":44,"color":"#000000","align":"center","baseline":"middle","angle":300},
"encoding":{"x":{"field":"x","type":"quantitative","scale":{"domain":[0,1]},"axis":null},"y":{"field":"y","type":"quantitative","scale":{"domain":[0,1]},"axis":null},"text":{"field":"s"}}},
{"data":{"values":[{"s":"⊕","x":0.0372,"y":0.6429}]},
"mark":{"type":"text","font":"DejaVu Sans","fontSize":52,"color":"#000000","align":"center","baseline":"middle","angle":300},
"encoding":{"x":{"field":"x","type":"quantitative","scale":{"domain":[0,1]},"axis":null},"y":{"field":"y","type":"quantitative","scale":{"domain":[0,1]},"axis":null},"text":{"field":"s"}}},
{"data":{"values":[{"s":"α","x":0.9303,"y":0.5788}]},
"mark":{"type":"text","font":"DejaVu Serif","fontStyle":"italic","fontSize":64,"color":"#000000","align":"center","baseline":"middle","angle":60},
"encoding":{"x":{"field":"x","type":"quantitative","scale":{"domain":[0,1]},"axis":null},"y":{"field":"y","type":"quantitative","scale":{"domain":[0,1]},"axis":null},"text":{"field":"s"}}},
{"data":{"values":[{"s":"μ","x":0.9233,"y":0.5251}]},
"mark":{"type":"text","font":"DejaVu Serif","fontStyle":"italic","fontSize":44,"color":"#000000","align":"center","baseline":"middle","angle":60},
"encoding":{"x":{"field":"x","type":"quantitative","scale":{"domain":[0,1]},"axis":null},"y":{"field":"y","type":"quantitative","scale":{"domain":[0,1]},"axis":null},"text":{"field":"s"}}},
{"data":{"values":[{"s":"⊕","x":0.9954,"y":0.5321}]},
"mark":{"type":"text","font":"DejaVu Sans","fontSize":52,"color":"#000000","align":"center","baseline":"middle","angle":60},
"encoding":{"x":{"field":"x","type":"quantitative","scale":{"domain":[0,1]},"axis":null},"y":{"field":"y","type":"quantitative","scale":{"domain":[0,1]},"axis":null},"text":{"field":"s"}}},
{"data":{"values":[{"s":"ng ends up near","x":0.2822,"y":0.9358}]},
"mark":{"type":"text","font":"Open Sans","fontSize":45,"color":"#ef3b3b","align":"right","baseline":"alphabetic"},
"encoding":{"x":{"field":"x","type":"quantitative","scale":{"domain":[0,1]},"axis":null},"y":{"field":"y","type":"quantitative","scale":{"domain":[0,1]},"axis":null},"text":{"field":"s"}}},
{"data":{"values":[{"x":0.0743,"y":0.8973,"x2":0.3328,"y2":0.503}]},
"mark":{"type":"rule","color":"#ef3b3b","strokeWidth":4},
"encoding":{"x":{"field":"x","type":"quantitative","scale":{"domain":[0,1]},"axis":null},"y":{"field":"y","type":"quantitative","scale":{"domain":[0,1]},"axis":null},"x2":{"field":"x2"},"y2":{"field":"y2"}}},
{"data":{"values":[{"x":0.3411,"y":0.4903}]},
"mark":{"type":"point","shape":"M0,-1L0.75,1L-0.75,1Z","size":1156,"angle":146.6,"filled":true,"color":"#ef3b3b","opacity":1,"strokeWidth":0},
"encoding":{"x":{"field":"x","type":"quantitative","scale":{"domain":[0,1]},"axis":null},"y":{"field":"y","type":"quantitative","scale":{"domain":[0,1]},"axis":null}}},
{"data":{"values":[{"g":"(1 :2 :0)"},{"g":"(1 :0 :0)"},{"g":"(0 :1 :0)"},{"g":"(0 :0 :1)"}]},
"mark":{"type":"point","filled":true,"opacity":0,"stroke":"#333333","strokeWidth":1},
"encoding":{"color":{"field":"g","type":"nominal","scale":{"domain":["(1 :2 :0)","(1 :0 :0)","(0 :1 :0)","(0 :0 :1)"],"range":["#FFD62A","#2F7346","#D6404D","#37558F"]},
"legend":{"title":null,"orient":"none","legendX":667,"legendY":20,"symbolType":"circle","symbolSize":1075,"symbolOpacity":1,"symbolStrokeColor":"#333333","symbolStrokeWidth":1,"labelFont":"Liberation Serif","labelFontSize":44,"labelColor":"#000000","labelOffset":3,"rowPadding":17,"labelLimit":0}}}}
]
}
